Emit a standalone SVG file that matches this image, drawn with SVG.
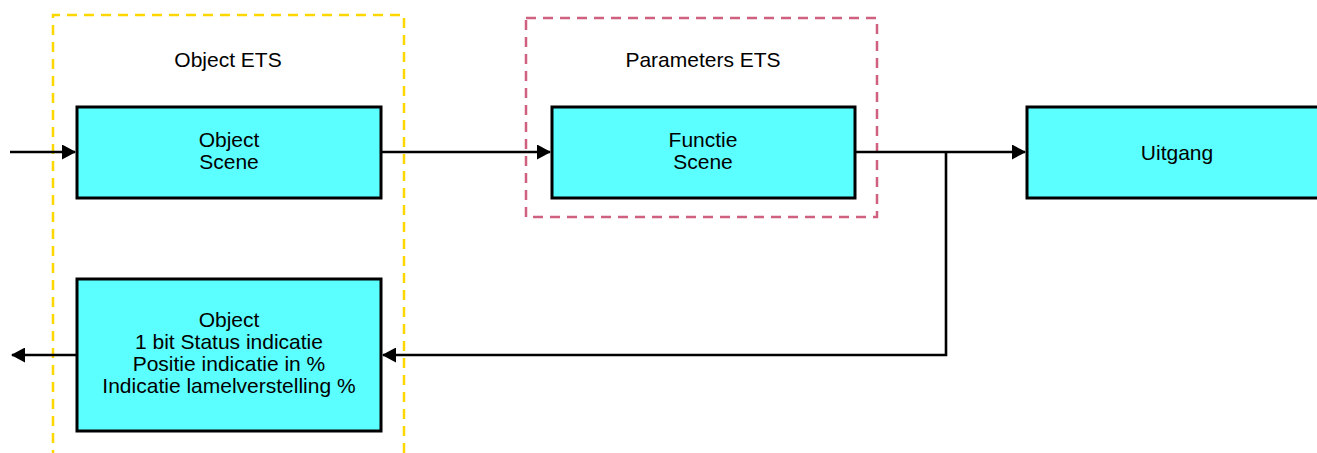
<svg xmlns="http://www.w3.org/2000/svg" width="1317" height="453" viewBox="0 0 1317 453">
<style>
.node{fill:#5cffff;stroke:#000;stroke-width:3}
.t{font-family:"Liberation Sans",Arial,sans-serif;font-size:21px;fill:#000;text-anchor:middle}
.c{fill:none;stroke:#000;stroke-width:2.6}
</style>
<defs>
<marker id="ah" markerWidth="14" markerHeight="15" refX="13" refY="7.5" orient="auto" markerUnits="userSpaceOnUse">
<path d="M0,0 L14,7.5 L0,15 Z" fill="#000"/>
</marker>
</defs>
<rect width="1317" height="453" fill="#fff"/>
<g id="group-object-ets">
<path d="M53,460 V15 H404 V460" fill="none" stroke="#ffd700" stroke-width="2.5" stroke-dasharray="10,7"/>
<text class="t" x="228" y="67">Object ETS</text>
</g>
<g id="group-parameters-ets">
<rect x="526" y="18" width="351" height="199" fill="none" stroke="#d06080" stroke-width="2.5" stroke-dasharray="10,7"/>
<text class="t" x="703" y="67">Parameters ETS</text>
</g>
<g id="connectors">
<path class="c" d="M10,152 H75" marker-end="url(#ah)"/>
<path class="c" d="M381,152 H550" marker-end="url(#ah)"/>
<path class="c" d="M855,152 H1025" marker-end="url(#ah)"/>
<path class="c" d="M946,152 V355 H383" marker-end="url(#ah)"/>
<path class="c" d="M77,355 H12" marker-end="url(#ah)"/>
</g>
<g id="node-object-scene">
<rect class="node" x="77" y="107" width="304" height="91"/>
<text class="t" x="229" y="147">Object</text>
<text class="t" x="229" y="169">Scene</text>
</g>
<g id="node-functie-scene">
<rect class="node" x="552" y="107" width="303" height="91"/>
<text class="t" x="703" y="147">Functie</text>
<text class="t" x="703" y="169">Scene</text>
</g>
<g id="node-uitgang">
<rect class="node" x="1027" y="107" width="300" height="91"/>
<text class="t" x="1177" y="160">Uitgang</text>
</g>
<g id="node-object-status">
<rect class="node" x="77" y="279" width="304" height="152"/>
<text class="t" x="229" y="327">Object</text>
<text class="t" x="229" y="349">1 bit Status indicatie</text>
<text class="t" x="229" y="371">Positie indicatie in %</text>
<text class="t" x="229" y="393">Indicatie lamelverstelling %</text>
</g>
</svg>
